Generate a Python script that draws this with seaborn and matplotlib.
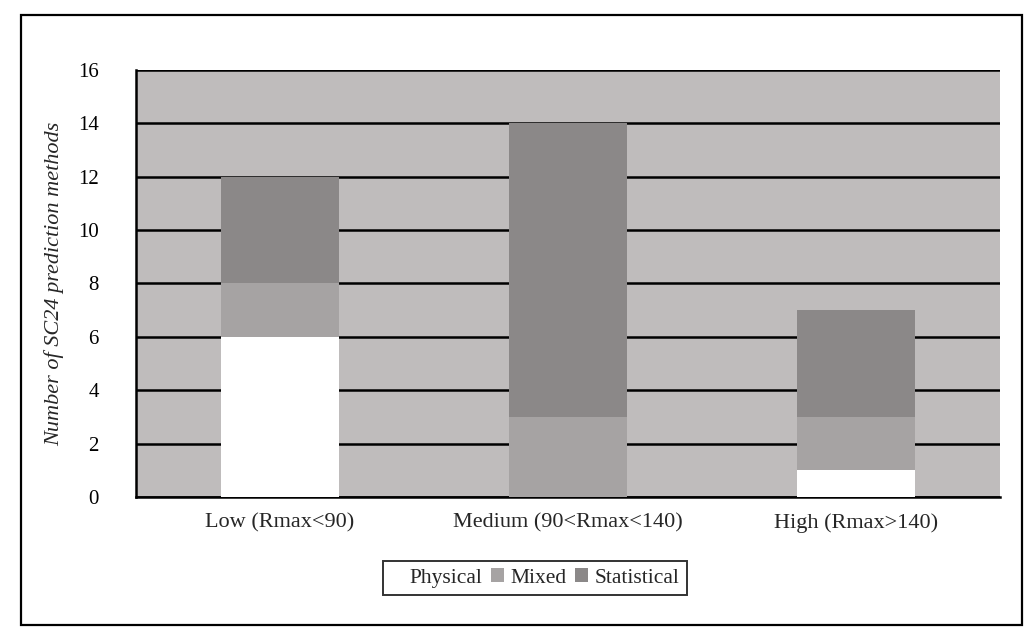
import matplotlib
matplotlib.use("Agg")
import matplotlib.pyplot as plt
import numpy as np
import pandas as pd
import seaborn as sns
from matplotlib.patches import Rectangle

categories = ["Low (Rmax<90)", "Medium (90<Rmax<140)", "High (Rmax>140)"]
physical = [6, 0, 1]
mixed = [2, 3, 2]
statistical = [4, 11, 4]
series_names = ["Physical", "Mixed", "Statistical"]
series_colors = ["#ffffff", "#a6a3a3", "#8b8888"]
yticks = [0, 2, 4, 6, 8, 10, 12, 14, 16]

sns.set_style("white")
plt.rcParams["font.family"] = ["Liberation Serif", "DejaVu Serif"]

df = pd.DataFrame({"category": categories, "Physical": physical,
                   "Mixed": mixed, "Statistical": statistical})
df["cum_phys"] = df["Physical"]
df["cum_mixed"] = df["cum_phys"] + df["Mixed"]
df["cum_stat"] = df["cum_mixed"] + df["Statistical"]

fig = plt.figure(figsize=(10.35, 6.42), dpi=100)
ax = fig.add_axes([0.131, 0.226, 0.835, 0.665])
ax.set_facecolor("#bfbcbc")

# draw totals first, then overlay lower segments
for col, name, color in [("cum_stat", "Statistical", series_colors[2]),
                         ("cum_mixed", "Mixed", series_colors[1]),
                         ("cum_phys", "Physical", series_colors[0])]:
    sns.barplot(data=df, x="category", y=col, color=color, width=0.41,
                saturation=1, ax=ax, label=name, linewidth=0, zorder=3)

ax.set_ylim(0, 16)
ax.set_xlim(-0.5, 2.5)
ax.set_yticks(yticks)
ax.set_yticklabels([str(t) for t in yticks], fontsize=15)
ax.yaxis.grid(True, color="black", linewidth=1.8, zorder=1)
ax.set_axisbelow(True)
for s in ["top", "right"]:
    ax.spines[s].set_visible(False)
for s in ["left", "bottom"]:
    ax.spines[s].set_color("black")
    ax.spines[s].set_linewidth(1.8)
ax.tick_params(axis="y", direction="inout", length=9, width=1.5, colors="black", pad=22)

# category labels between boundary ticks
ax.set_xticks([-0.5, 0.5, 1.5, 2.5])
ax.set_xticklabels([])
ax.tick_params(axis="x", direction="out", length=7, width=1.5, colors="black")
ax.set_xticks([0, 1, 2], minor=True)
ax.set_xticklabels(categories, minor=True, fontsize=16)
ax.tick_params(axis="x", which="minor", length=0, pad=12)

ax.set_xlabel("")
ax.set_ylabel("Number of SC24 prediction methods", fontsize=16, style="italic", labelpad=10)

handles, labels = ax.get_legend_handles_labels()
order = [labels.index(n) for n in series_names]
leg = fig.legend([handles[i] for i in order], [labels[i] for i in order],
                 loc="center", bbox_to_anchor=(0.517, 0.1), ncol=3, fontsize=15.5,
                 frameon=True, fancybox=False, edgecolor="black",
                 handlelength=0.6, handleheight=0.6, handletextpad=0.3,
                 columnspacing=0.4, borderpad=0.35, borderaxespad=0)
leg.get_frame().set_linewidth(1.4)
if ax.get_legend() is not None:
    ax.get_legend().remove()

# outer chart border
fig.patches.append(Rectangle((0.02, 0.027), 0.967, 0.95, transform=fig.transFigure,
                             fill=False, edgecolor="black", linewidth=1.6))

fig.savefig("out.png", dpi=100)
